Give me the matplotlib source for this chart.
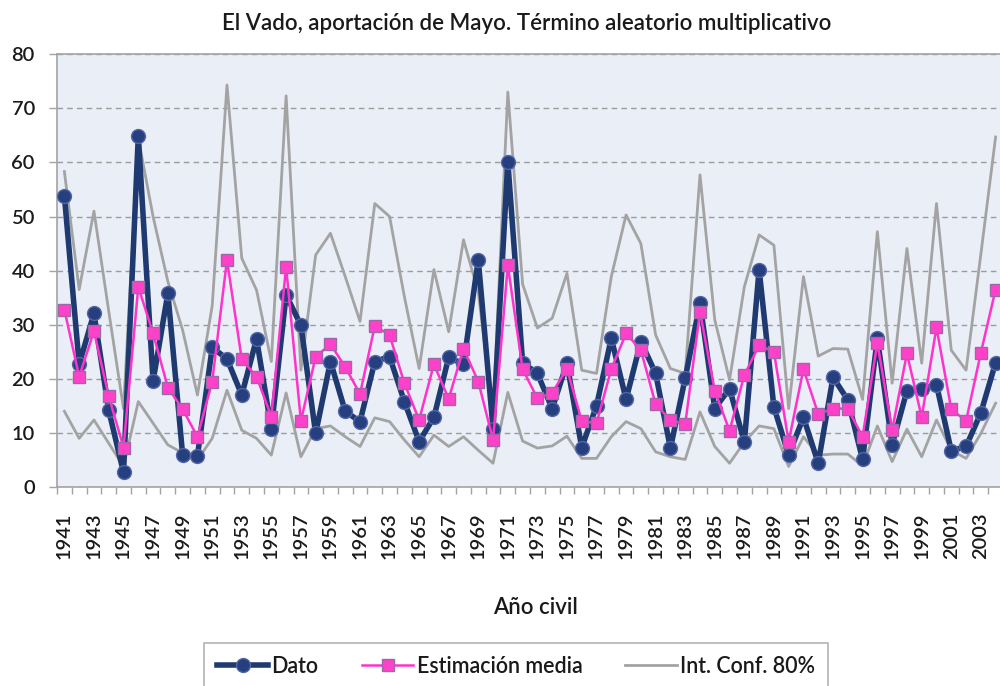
import numpy as np
import matplotlib.pyplot as plt
from matplotlib.ticker import MultipleLocator

plt.rcParams['font.family'] = ['Lato', 'DejaVu Sans']
plt.rcParams['font.weight'] = 'semibold'

years = list(range(1941, 2005))

dato = [53.8, 22.7, 32.1, 14.2, 2.7, 64.9, 19.6, 35.8, 5.9, 5.7,
        25.8, 23.7, 17.0, 27.4, 10.8, 35.5, 29.9, 9.9, 23.2, 14.0,
        12.1, 23.2, 24.1, 15.8, 8.4, 12.9, 24.0, 22.7, 42.0, 10.8,
        60.1, 23.0, 21.0, 14.5, 22.9, 7.3, 15.0, 27.5, 16.2, 26.9,
        21.0, 7.2, 20.1, 34.0, 14.5, 18.2, 8.3, 40.2, 14.8, 5.9,
        12.9, 4.4, 20.3, 16.1, 5.1, 27.5, 7.8, 17.8, 18.1, 18.9,
        6.7, 7.5, 13.7, 23.0]

estimacion = [32.8, 20.4, 28.8, 16.8, 7.3, 37.0, 28.4, 18.4, 14.4, 9.3,
              19.5, 42.0, 23.6, 20.4, 13.0, 40.7, 12.2, 24.1, 26.4, 22.2,
              17.2, 29.8, 28.1, 19.2, 12.4, 22.7, 16.3, 25.6, 19.5, 8.7,
              41.0, 21.8, 16.4, 17.4, 21.9, 12.2, 11.8, 21.8, 28.4, 25.3,
              15.3, 12.4, 11.6, 32.4, 17.8, 10.4, 20.7, 26.2, 25.0, 8.4,
              21.8, 13.5, 14.5, 14.5, 9.3, 26.7, 10.5, 24.7, 12.9, 29.5,
              14.4, 12.2, 24.8, 36.5]

ic_sup = [58.3, 36.5, 51.0, 32.5, 14.5, 64.5, 50.0, 38.0, 29.0, 17.0,
          33.5, 74.3, 42.3, 36.4, 23.2, 72.3, 21.6, 42.9, 46.9, 38.9,
          30.6, 52.4, 50.0, 35.2, 21.9, 40.2, 28.7, 45.7, 36.0, 13.5,
          73.0, 37.5, 29.4, 31.2, 39.5, 21.6, 21.0, 38.9, 50.3, 45.0,
          28.1, 21.9, 21.0, 57.7, 30.9, 19.8, 37.0, 46.6, 44.7, 14.5,
          38.9, 24.2, 25.6, 25.5, 16.2, 47.2, 19.2, 44.1, 22.9, 52.4,
          25.3, 21.6, 43.0, 64.7]

ic_inf = [14.0, 9.0, 12.4, 8.1, 3.8, 15.8, 11.8, 7.8, 6.3, 5.0,
          9.0, 17.9, 10.5, 9.0, 5.9, 17.4, 5.6, 10.8, 11.3, 9.3,
          7.5, 12.8, 12.1, 8.7, 5.6, 9.6, 7.5, 9.3, 6.8, 4.4,
          17.5, 8.5, 7.2, 7.6, 9.4, 5.3, 5.3, 9.3, 12.1, 10.8,
          6.5, 5.6, 5.1, 13.9, 7.5, 4.4, 8.3, 11.3, 10.8, 3.8,
          9.3, 5.9, 6.1, 6.1, 3.9, 11.3, 4.7, 10.7, 5.6, 12.4,
          6.8, 5.3, 9.9, 15.5]

GRAY = '#a3a3a3'
NAVY = '#1f3a70'
PINK = '#ff33cc'
TXT = '#1a1a1a'

fig = plt.figure(figsize=(10, 6.86), dpi=100)
ax = fig.add_axes([0.057, 0.290, 0.946, 0.631])
ax.set_facecolor('#eaeef6')

ax.plot(years, ic_sup, color=GRAY, lw=2, zorder=2, label='Int. Conf. 80%')
ax.plot(years, ic_inf, color=GRAY, lw=2, zorder=2)
ax.plot(years, dato, color=NAVY, lw=4, marker='o', ms=10,
        mfc='#263f7e', mec='#5566a6', mew=1, zorder=3, label='Dato')
ax.plot(years, estimacion, color=PINK, lw=1.8, marker='s', ms=8,
        mfc='#ff40c8', mec='#9a6aa8', mew=1, zorder=4, label='Estimación media')

ax.set_xlim(1940.5, 2004.5)
ax.set_ylim(0, 80)
ax.yaxis.set_major_locator(MultipleLocator(10))
ax.grid(axis='y', color='#9c9c9c', lw=1, ls=(0, (4, 3)))
ax.set_axisbelow(True)

ax.set_xticks(years[::2])
ax.set_xticklabels([str(y) for y in years[::2]], rotation=90)
ax.set_xticks(np.arange(1940.5, 2005, 1), minor=True)
ax.tick_params(axis='x', which='major', length=0, pad=18, labelsize=14.5,
               labelcolor=TXT)
ax.tick_params(axis='x', which='minor', length=5, color=GRAY, width=1)
ax.tick_params(axis='y', length=6, color=GRAY, width=1, pad=10, labelsize=14.5,
               labelcolor=TXT)

for s in ['left', 'bottom', 'top']:
    ax.spines[s].set_color(GRAY)
    ax.spines[s].set_linewidth(1.2)
ax.spines['right'].set_visible(False)

fig.text(0.527, 0.966, 'El Vado, aportación de Mayo. Término aleatorio multiplicativo',
         ha='center', va='center', fontsize=16, color=TXT)
fig.text(0.535, 0.115, 'Año civil', ha='center', va='center', fontsize=16,
         color=TXT)

h, l = ax.get_legend_handles_labels()
order = [1, 2, 0]
leg = fig.legend([h[i] for i in order], [l[i] for i in order],
                 loc='upper center', bbox_to_anchor=(0.516, 0.063), ncol=3,
                 frameon=True, fancybox=False, edgecolor='#a0a0a0',
                 fontsize=15.5, handlelength=2.4, handletextpad=0.15,
                 columnspacing=2.0, borderpad=0.6, borderaxespad=0)
leg.get_frame().set_linewidth(1.2)
for t in leg.get_texts():
    t.set_color(TXT)

fig.savefig('out.png', dpi=100)
